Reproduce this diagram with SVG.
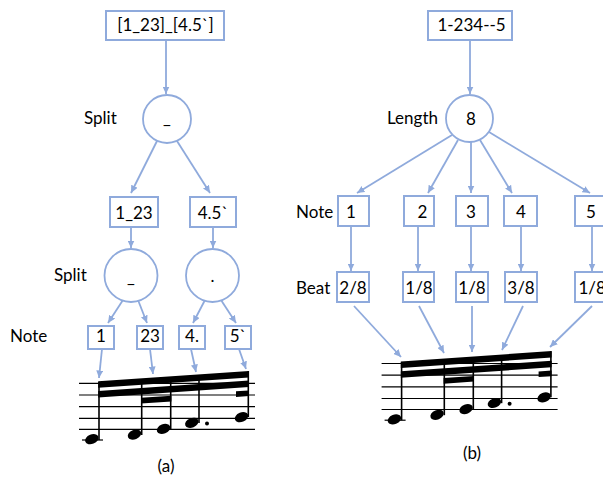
<svg xmlns="http://www.w3.org/2000/svg" xmlns:xlink="http://www.w3.org/1999/xlink" width="603" height="477" viewBox="0 0 603 477">
<style>
text{font-family:Lato,"Liberation Sans",sans-serif;font-size:17px;fill:#000}
.c{text-anchor:middle}
.box{fill:#fff;stroke:#8FAADC;stroke-width:2}
.circ{fill:#fff;stroke:#8FAADC;stroke-width:1.8}
.edge{fill:none;stroke:#8FAADC;stroke-width:1.8;marker-end:url(#ah)}
.sl{stroke:#000;stroke-width:1.2}
.st{stroke:#000;stroke-width:1.6}
</style>
<defs>
<marker id="ah" markerUnits="userSpaceOnUse" markerWidth="8" markerHeight="7" refX="7.5" refY="3.5" orient="auto">
<path d="M0,0 L7.5,3.5 L0,7 z" fill="#8FAADC"/>
</marker>
<g id="staff">
<line class="sl" x1="79" y1="383.3" x2="255" y2="383.3"/>
<line class="sl" x1="79" y1="395" x2="255" y2="395"/>
<line class="sl" x1="79" y1="406.7" x2="255" y2="406.7"/>
<line class="sl" x1="79" y1="418.3" x2="255" y2="418.3"/>
<line class="sl" x1="79" y1="429.3" x2="255" y2="429.3"/>
<line class="sl" x1="82" y1="440" x2="103" y2="440"/>
<line class="st" x1="99" y1="440" x2="99" y2="382"/>
<line class="st" x1="141.7" y1="435" x2="141.7" y2="380"/>
<line class="st" x1="170.7" y1="429" x2="170.7" y2="378"/>
<line class="st" x1="199" y1="423" x2="199" y2="376"/>
<line class="st" x1="248.3" y1="417" x2="248.3" y2="371"/>
<polygon points="98.2,381.3 249,370.9 249,377.4 98.2,387.8"/>
<polygon points="98.2,391 249,380.6 249,387.1 98.2,397.5"/>
<polygon points="141,397.8 171.4,395.7 171.4,401.4 141,403.5"/>
<polygon points="236,391.3 249,390.4 249,396 236,396.9"/>
<ellipse cx="91.8" cy="439.2" rx="7" ry="4.7" transform="rotate(-22 91.8 439.2)"/>
<ellipse cx="134.5" cy="434.6" rx="7" ry="4.7" transform="rotate(-22 134.5 434.6)"/>
<ellipse cx="163.5" cy="428.9" rx="7" ry="4.7" transform="rotate(-22 163.5 428.9)"/>
<ellipse cx="191.8" cy="422.8" rx="7" ry="4.7" transform="rotate(-22 191.8 422.8)"/>
<circle cx="207" cy="423.5" r="2"/>
<ellipse cx="241.5" cy="417.2" rx="7" ry="4.7" transform="rotate(-22 241.5 417.2)"/>
</g>
</defs>
<rect width="603" height="477" fill="#fff"/>
<g id="connectors">
<path class="edge" d="M166,40 L166,94"/>
<path class="edge" d="M157,141 L131,193"/>
<path class="edge" d="M177,141 L210,193"/>
<path class="edge" d="M131,227 L131,248"/>
<path class="edge" d="M213,227 L213,248"/>
<path class="edge" d="M123,300 L108,323"/>
<path class="edge" d="M138,300 L147,323"/>
<path class="edge" d="M205,300 L193,323"/>
<path class="edge" d="M221,300 L236,323"/>
<path class="edge" d="M102,349 L99,378"/>
<path class="edge" d="M150,349 L153,374"/>
<path class="edge" d="M191,349 L196,372"/>
<path class="edge" d="M239,349 L246,369"/>
<path class="edge" d="M470,40 L470,94"/>
<path class="edge" d="M452,135 L357,193"/>
<path class="edge" d="M458,140 L428,193"/>
<path class="edge" d="M471,142 L471,193"/>
<path class="edge" d="M480,140 L512,193"/>
<path class="edge" d="M489,132 L590,193"/>
<path class="edge" d="M351,226 L351,271"/>
<path class="edge" d="M418,226 L418,271"/>
<path class="edge" d="M471,226 L471,271"/>
<path class="edge" d="M521,226 L521,271"/>
<path class="edge" d="M592,225 L592,271"/>
<path class="edge" d="M354,306 L401,357"/>
<path class="edge" d="M419,306 L444,353"/>
<path class="edge" d="M472,306 L472,352"/>
<path class="edge" d="M523,306 L502,350"/>
<path class="edge" d="M592,306 L550,347"/>
</g>
<g id="a-root"><rect class="box" x="106" y="11" width="118" height="29"/><text class="c" x="165.5" y="30.5">[1_23]_[4.5`]</text></g>
<g id="a-split1"><circle class="circ" cx="167" cy="119" r="24"/><text class="c" x="167" y="124">_</text></g>
<text x="84" y="124">Split</text>
<g id="a-left"><rect class="box" x="110" y="197" width="48" height="30"/><text class="c" x="134" y="218.5">1_23</text></g>
<g id="a-right"><rect class="box" x="190" y="197" width="46" height="30"/><text class="c" x="213" y="218.5">4.5`</text></g>
<g id="a-split2"><circle class="circ" cx="131" cy="275.5" r="26.5"/><text class="c" x="131" y="283">_</text></g>
<g id="a-split3"><circle class="circ" cx="212.5" cy="275.5" r="26.5"/><text class="c" x="212.5" y="281.5">.</text></g>
<text x="54" y="281">Split</text>
<text x="10" y="342">Note</text>
<g id="a-n1"><rect class="box" x="88" y="326" width="26" height="23"/><text class="c" x="101" y="342">1</text></g>
<g id="a-n2"><rect class="box" x="137" y="326" width="26" height="23"/><text class="c" x="150" y="342">23</text></g>
<g id="a-n3"><rect class="box" x="179" y="326" width="26" height="23"/><text class="c" x="192" y="342">4.</text></g>
<g id="a-n4"><rect class="box" x="225" y="326" width="26" height="23"/><text class="c" x="238" y="342">5`</text></g>
<g id="a-staff"><use xlink:href="#staff" href="#staff"/></g>
<text class="c" x="166" y="472">(a)</text>
<g id="b-root"><rect class="box" x="428" y="11" width="84" height="29"/><text class="c" x="471.5" y="30.5">1-234--5</text></g>
<g id="b-length"><circle class="circ" cx="469.5" cy="118.5" r="23.5"/><text class="c" x="471" y="124.5">8</text></g>
<text x="387" y="124">Length</text>
<text x="296" y="218">Note</text>
<g id="b-n1"><rect class="box" x="338" y="196" width="31" height="30"/><text class="c" x="351" y="218">1</text></g>
<g id="b-n2"><rect class="box" x="404" y="196" width="30" height="30"/><text class="c" x="422.5" y="218">2</text></g>
<g id="b-n3"><rect class="box" x="456" y="196" width="32" height="30"/><text class="c" x="471" y="218">3</text></g>
<g id="b-n4"><rect class="box" x="504" y="196" width="33" height="30"/><text class="c" x="521" y="218">4</text></g>
<g id="b-n5"><rect class="box" x="575" y="196" width="32" height="30"/><text class="c" x="591" y="218">5</text></g>
<text x="296" y="293.5">Beat</text>
<g id="b-b1"><rect class="box" x="337" y="272" width="32" height="30"/><text class="c" x="353" y="293.5">2/8</text></g>
<g id="b-b2"><rect class="box" x="403" y="272" width="31" height="30"/><text class="c" x="419" y="293.5">1/8</text></g>
<g id="b-b3"><rect class="box" x="456" y="272" width="32" height="30"/><text class="c" x="472" y="293.5">1/8</text></g>
<g id="b-b4"><rect class="box" x="505" y="272" width="32" height="30"/><text class="c" x="521" y="293.5">3/8</text></g>
<g id="b-b5"><rect class="box" x="575" y="272" width="32" height="30"/><text x="578.5" y="293.5">1/8</text></g>
<g id="b-staff"><use xlink:href="#staff" href="#staff" transform="translate(302.6,-19.8)"/></g>
<text class="c" x="472" y="459">(b)</text>
</svg>
